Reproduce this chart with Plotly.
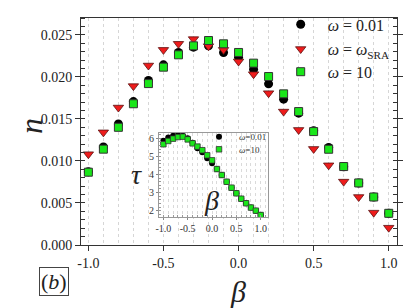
import plotly.graph_objects as go

beta = [-1.0, -0.9, -0.8, -0.7, -0.6, -0.5, -0.4, -0.3, -0.2, -0.1, 0.0,
        0.1, 0.2, 0.3, 0.4, 0.5, 0.6, 0.7, 0.8, 0.9, 1.0]

n_w001 = [0.00870, 0.01165, 0.01440, 0.01706, 0.01956, 0.02143, 0.02290, 0.02353,
          0.02369, 0.02290, 0.02234, 0.02091, 0.01917, 0.01735, 0.01568, 0.01360,
          0.01160, 0.00930, 0.00738, 0.00571, 0.00377]
n_wsra = [0.01080, 0.01340, 0.01635, 0.01890, 0.02135, 0.02321, 0.02393, 0.02449,
          0.02365, 0.02321, 0.02183, 0.02032, 0.01806, 0.01587, 0.01369, 0.01143,
          0.00948, 0.00754, 0.00571, 0.00385, 0.00206]
n_w10 = [0.00866, 0.01140, 0.01400, 0.01680, 0.01920, 0.02115, 0.02262, 0.02369,
         0.02432, 0.02393, 0.02290, 0.02163, 0.02004, 0.01798, 0.01587, 0.01349,
         0.01139, 0.00933, 0.00738, 0.00571, 0.00377]

tau_w001 = [5.87, 6.05, 6.14, 6.18, 6.14, 6.00, 5.76, 5.45, 5.23, 4.90, 4.62,
            4.30, 3.97, 3.60, 3.27, 2.96, 2.66, 2.41, 2.17, 2.00, 1.76]
tau_w10 = [5.67, 5.85, 5.98, 6.07, 6.09, 5.94, 5.72, 5.54, 5.34, 5.06, 4.78,
           4.30, 3.97, 3.60, 3.27, 2.96, 2.66, 2.41, 2.17, 2.00, 1.76]

x_ticks = [-1.0, -0.5, 0.0, 0.5, 1.0]
x_ticklabels = ["-1.0", "-0.5", "0.0", "0.5", "1.0"]
y_ticks = [0.000, 0.005, 0.010, 0.015, 0.020, 0.025]
y_ticklabels = ["0.000", "0.005", "0.010", "0.015", "0.020", "0.025"]
inset_yticks = [2, 3, 4, 5, 6]

SERIF = "Liberation Serif, Times New Roman, DejaVu Serif, serif"
BLACK = "#000000"
RED = "#ee1c1c"
GREEN = "#19e619"

# page offsets (browser body margin of 8 px)
PL, PT = 81, 18          # plot area top-left in page pixels
PW, PH = 316, 227        # plot area size


def px(xp):
    return (xp - PL) / PW


def py(yp):
    return (PT + PH - yp) / PH


fig = go.Figure()

fig.add_trace(go.Scatter(x=beta, y=n_w001, mode="markers", name="<i>ω</i> = 0.01",
                         legend="legend",
                         marker=dict(symbol="circle", size=9, color=BLACK)))
fig.add_trace(go.Scatter(x=beta, y=n_wsra, mode="markers",
                         name="<i>ω</i> = <i>ω</i><sub>SRA</sub>", legend="legend3",
                         marker=dict(symbol="triangle-down", size=9, color=RED,
                                     line=dict(color="#5a1010", width=0.8))))
fig.add_trace(go.Scatter(x=beta, y=n_w10, mode="markers", name="<i>ω</i> = 10",
                         legend="legend4",
                         marker=dict(symbol="square", size=8, color=GREEN,
                                     line=dict(color="#333333", width=1))))

fig.add_trace(go.Scatter(x=beta, y=tau_w001, mode="markers", name="<i>ω</i>=0.01",
                         xaxis="x2", yaxis="y2", legend="legend2",
                         marker=dict(symbol="circle", size=6, color=BLACK)))
fig.add_trace(go.Scatter(x=beta, y=tau_w10, mode="markers", name="<i>ω</i>=10",
                         xaxis="x2", yaxis="y2", legend="legend5",
                         marker=dict(symbol="square", size=5.5, color=GREEN,
                                     line=dict(color="#333333", width=0.8))))

axis_col = "#333333"


def main_legend(marker_x, marker_y):
    return dict(x=px(marker_x - 27), y=py(marker_y - 16.9), xanchor="left",
                yanchor="top", bgcolor="rgba(0,0,0,0)", borderwidth=0,
                itemwidth=44,
                font=dict(size=16, family=SERIF, color="#222222"))


def inset_legend(marker_x, marker_y):
    return dict(x=px(marker_x - 20), y=py(marker_y - 14.5), xanchor="left",
                yanchor="top", bgcolor="rgba(0,0,0,0)", borderwidth=0,
                itemwidth=30,
                font=dict(size=9, family=SERIF, color="#333333"))


fig.update_layout(
    width=407, height=300,
    margin=dict(l=PL - 8, r=407 - (PL - 8) - PW, t=PT - 8, b=300 - (PT - 8) - PH,
                autoexpand=False),
    paper_bgcolor="white", plot_bgcolor="white",
    font=dict(family=SERIF, color="#222222"),
    showlegend=True,
    xaxis=dict(
        domain=[0, 1], range=[-1.049, 1.055],
        tickvals=x_ticks, ticktext=x_ticklabels,
        ticks="outside", ticklen=5, tickcolor=axis_col,
        tickfont=dict(size=14, family=SERIF),
        showline=True, linecolor=axis_col, linewidth=1, mirror=True,
        showgrid=False, zeroline=False,
        minor=dict(dtick=0.1, tick0=0, showgrid=True, gridcolor="#d6d6d6",
                   griddash="dot", gridwidth=1, ticks=""),
    ),
    yaxis=dict(
        domain=[0, 1], range=[0, 0.027],
        tickvals=y_ticks, ticktext=y_ticklabels,
        ticks="outside", ticklen=5, tickcolor=axis_col,
        tickfont=dict(size=14, family=SERIF),
        showline=True, linecolor=axis_col, linewidth=1, mirror="ticks",
        showgrid=False, zeroline=False,
        minor=dict(dtick=0.001, tick0=0, ticks="inside", ticklen=4,
                   tickcolor=axis_col, showgrid=False),
    ),
    xaxis2=dict(
        domain=[px(159), px(268)], anchor="y2", range=[-1.09, 1.15],
        tickvals=x_ticks, ticktext=x_ticklabels,
        ticks="outside", ticklen=2, tickcolor="#888888",
        tickfont=dict(size=10, family=SERIF, color="#333333"),
        showline=True, linecolor="#999999", linewidth=1, mirror=True,
        showgrid=False, zeroline=False,
        minor=dict(dtick=0.1, tick0=0, showgrid=True, gridcolor="#dadada",
                   griddash="dot", gridwidth=1, ticks="inside", ticklen=2,
                   tickcolor="#999999"),
    ),
    yaxis2=dict(
        domain=[py(217), py(132.5)], anchor="x2", range=[1.65, 6.32],
        tickvals=inset_yticks,
        ticks="outside", ticklen=2, tickcolor="#888888",
        tickfont=dict(size=10, family=SERIF, color="#333333"),
        showline=True, linecolor="#999999", linewidth=1, mirror=True,
        showgrid=False, zeroline=False,
        minor=dict(dtick=0.2, tick0=0, ticks="inside", ticklen=2,
                   tickcolor="#999999"),
    ),
    legend=main_legend(300.7, 24.3),
    legend3=main_legend(300.7, 49.0),
    legend4=main_legend(300.7, 71.7),
    legend2=inset_legend(219, 136.7),
    legend5=inset_legend(219, 149.3),
    annotations=[
        dict(text="<i>n</i>", xref="paper", yref="paper",
             x=px(31), y=py(126), showarrow=False, textangle=-90,
             xanchor="center", yanchor="middle",
             font=dict(size=32, family=SERIF, color="#222222")),
        dict(text="<i>β</i>", xref="paper", yref="paper",
             x=px(238), y=py(291), showarrow=False,
             xanchor="center", yanchor="middle",
             font=dict(size=30, family=SERIF, color="#222222")),
        dict(text="<i>τ</i>", xref="paper", yref="paper",
             x=px(136), y=py(174), showarrow=False,
             xanchor="center", yanchor="middle",
             font=dict(size=28, family=SERIF, color="#222222")),
        dict(text="<i>β</i>", xref="paper", yref="paper",
             x=px(211), y=py(200), showarrow=False,
             xanchor="center", yanchor="middle",
             font=dict(size=28, family=SERIF, color="#222222")),
        dict(text="(<i>b</i>)", xref="paper", yref="paper",
             x=px(54), y=py(281), showarrow=False,
             xanchor="center", yanchor="middle",
             font=dict(size=22, family=SERIF, color="#222222"),
             bordercolor="#444444", borderwidth=1, borderpad=1,
             bgcolor="white"),
    ],
)

fig.write_html("out.html")
